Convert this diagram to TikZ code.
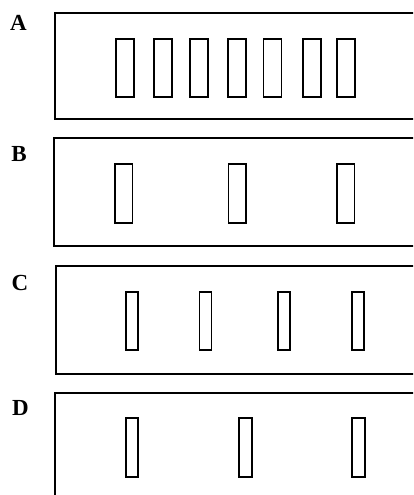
\documentclass[tikz,border=0pt]{standalone}
\usepackage{fontspec}
\setmainfont{Liberation Serif}
\begin{document}
\begin{tikzpicture}[x=1pt,y=-1pt,
  panel/.style={draw=black,line width=2pt},
  band/.style={draw=black,line width=1.8pt},
  lab/.style={font=\bfseries\fontsize{23}{23}\selectfont,inner sep=0pt,anchor=center}]
\useasboundingbox (0,0) rectangle (413,495);
\clip (0,0) rectangle (413,495);
% Panel A
\draw[panel] (54.8,12.7) rectangle (440,119);
\foreach \x in {116,154,190,228,263.5,303,337}
  \draw[band] (\x,38.7) rectangle ++(18,58);
\node[lab] (la) at (18.5,23) {A};
% Panel B
\draw[panel] (54,138.3) rectangle (440,246);
\foreach \x in {115,228.5,337}
  \draw[band] (\x,164.3) rectangle ++(17.5,58.4);
\node[lab] (lb) at (19,154.5) {B};
% Panel C
\draw[panel] (55.5,265.7) rectangle (440,373.5);
\foreach \x in {126,199.5,278.3,352.3}
  \draw[band] (\x,291.7) rectangle ++(12,58.3);
\node[lab] (lc) at (20,282.5) {C};
% Panel D
\draw[panel] (54.5,392.7) rectangle (440,520);
\foreach \x in {126,239.3,352.3}
  \draw[band] (\x,418.3) rectangle ++(12.3,58.4);
\node[lab] (ld) at (20.5,408) {D};
\end{tikzpicture}
\end{document}
